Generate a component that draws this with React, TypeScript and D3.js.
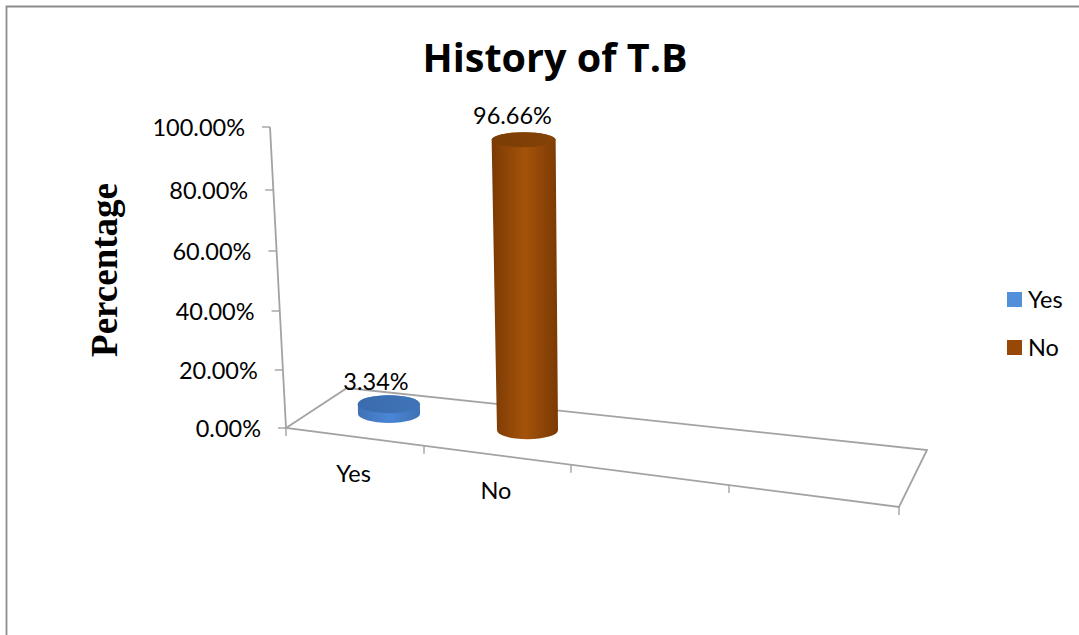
import React from "react";
import * as d3 from "d3";

const categories = ["Yes", "No"];
const seriesValues = [3.34, 96.66];
const seriesColors = ["#5390d9", "#974706"];
const valueTicks = [0, 20, 40, 60, 80, 100];
const tickPixels = [428, 370, 311, 251, 190, 127];
const floorSlots = [0, 1, 2, 3, 4];
const floorPixels = [286, 424, 571, 729, 899];

const WIDTH = 1079;
const HEIGHT = 635;
const SANS = "Lato, 'Open Sans', sans-serif";
const TITLE_FONT = "'Open Sans', Lato, sans-serif";
const SERIF = "'Liberation Serif', serif";
const AXIS = "#a3a3a3";
const LABEL_SIZE = 23.5;

// The 3D projection compresses the value axis towards the top, so both
// axes are piecewise-linear through their tick positions.
const yScale = d3.scaleLinear().domain(valueTicks).range(tickPixels);
const slotX = d3.scaleLinear().domain(floorSlots).range(floorPixels);
const frontY = d3.scaleLinear().domain([286, 899]).range([428, 507]);
const axisLean = d3.scaleLinear().domain([0, 100]).range([286, 270]);

const floorLine = d3.line().curve(d3.curveLinearClosed);
const floor: [number, number][] = [
  [286, 428],
  [347, 388],
  [927, 450],
  [899, 507],
];

// Outline of a cylinder body between a lower and an upper ellipse.
function cylinderBody(cxB: number, yB: number, rxB: number, ryB: number, cxT: number, yT: number, rxT: number, ryT: number) {
  return [
    `M${cxT - rxT},${yT}`,
    `L${cxB - rxB},${yB}`,
    `A${rxB},${ryB} 0 0 0 ${cxB + rxB},${yB}`,
    `L${cxT + rxT},${yT}`,
    `A${rxT},${ryT} 0 0 0 ${cxT - rxT},${yT}`,
    "Z",
  ].join(" ");
}

function Cylinder({ index }: { index: number }) {
  const value = seriesValues[index];
  const front = slotX(index + 0.5);
  const cx = front + (index === 0 ? 34 : 30);
  const baseY = frontY(front) - (index === 0 ? 23 : 25);
  const rise = yScale(0) - yScale(value);
  const lean = (axisLean(0) - axisLean(value)) * 0.25;
  const rx = index === 0 ? 31 : 30.5;
  const topRx = rx + (rise / 290) * 1.5;
  const ry = 9;
  const topRy = index === 0 ? 9 : 7.5;
  const topY = baseY - rise;
  const topX = cx - lean;
  return (
    <g>
      <path
        d={cylinderBody(cx, baseY, rx, ry, topX, topY, topRx, topRy)}
        fill={`url(#body-${index})`}
      />
      <ellipse cx={topX} cy={topY} rx={topRx} ry={topRy} fill={`url(#cap-${index})`} />
    </g>
  );
}

export default function App() {
  const gradients = [
    { edge: "#3f72b4", mid: "#4a86d6", capA: "#3a6cae", capB: "#3f74b8" },
    { edge: "#7a3a04", mid: "#a5520a", capA: "#7b3d05", capB: "#844206" },
  ];
  const dataLabels = [
    { x: 376, y: 390 },
    { x: 512.5, y: 124 },
  ];
  const categoryLabels = [
    { x: 353.5, y: 482 },
    { x: 496, y: 499 },
  ];
  const legendRows = [300, 348];

  return (
    <svg
      width={WIDTH}
      height={HEIGHT}
      style={{ position: "absolute", left: 0, top: 0, background: "#fff" }}
    >
      <defs>
        {gradients.map((g, i) => (
          <React.Fragment key={i}>
            <linearGradient id={`body-${i}`} x1="0" x2="1" y1="0" y2="0">
              <stop offset="0" stopColor={g.edge} />
              <stop offset="0.5" stopColor={g.mid} />
              <stop offset="1" stopColor={g.edge} />
            </linearGradient>
            <linearGradient id={`cap-${i}`} x1="0" x2="1" y1="0" y2="0">
              <stop offset="0" stopColor={g.capA} />
              <stop offset="1" stopColor={g.capB} />
            </linearGradient>
          </React.Fragment>
        ))}
      </defs>

      {/* Chart frame: only its top and left edges fall inside the canvas */}
      <path d="M6.5,635V6.5H1079" fill="none" stroke="#8c8c8c" strokeWidth={1.8} />

      <text x={555} y={72} textAnchor="middle" fontFamily={TITLE_FONT} fontWeight={700} fontSize={39.5} fill="#000">
        History of T.B
      </text>

      <text
        transform="translate(117,270) rotate(-90)"
        textAnchor="middle"
        fontFamily={SERIF}
        fontWeight={700}
        fontSize={37}
        fill="#000"
      >
        Percentage
      </text>

      {/* Floor and value axis */}
      <path d={floorLine(floor) ?? ""} fill="none" stroke={AXIS} strokeWidth={1.8} />
      <line x1={axisLean(0)} y1={yScale(0)} x2={axisLean(100)} y2={yScale(100)} stroke={AXIS} strokeWidth={1.8} />

      {valueTicks.map((t) => (
        <g key={t}>
          <line
            x1={axisLean(t) - 8}
            x2={axisLean(t)}
            y1={yScale(t)}
            y2={yScale(t)}
            stroke={AXIS}
            strokeWidth={1.4}
          />
          <text
            x={axisLean(t) - 25}
            y={yScale(t) + 9}
            textAnchor="end"
            fontFamily={SANS}
            fontSize={LABEL_SIZE}
            fill="#000"
          >
            {d3.format(".2f")(t)}%
          </text>
        </g>
      ))}

      {floorSlots.map((s) => {
        const x = slotX(s);
        const y = frontY(x);
        return <line key={s} x1={x} x2={x} y1={y} y2={y + 8} stroke={AXIS} strokeWidth={1.4} />;
      })}

      {categories.map((_, i) => (
        <Cylinder key={i} index={i} />
      ))}

      {seriesValues.map((v, i) => (
        <text
          key={i}
          x={dataLabels[i].x}
          y={dataLabels[i].y}
          textAnchor="middle"
          fontFamily={SANS}
          fontSize={LABEL_SIZE}
          fill="#000"
        >
          {d3.format(".2f")(v)}%
        </text>
      ))}

      {categories.map((c, i) => (
        <text
          key={c}
          x={categoryLabels[i].x}
          y={categoryLabels[i].y}
          textAnchor="middle"
          fontFamily={SANS}
          fontSize={LABEL_SIZE}
          fill="#000"
        >
          {c}
        </text>
      ))}

      {categories.map((c, i) => (
        <g key={c}>
          <rect x={1007} y={legendRows[i] - 8} width={15} height={15} fill={seriesColors[i]} />
          <text x={1028} y={legendRows[i] + 8} fontFamily={SANS} fontSize={LABEL_SIZE} fill="#000">
            {c}
          </text>
        </g>
      ))}
    </svg>
  );
}
